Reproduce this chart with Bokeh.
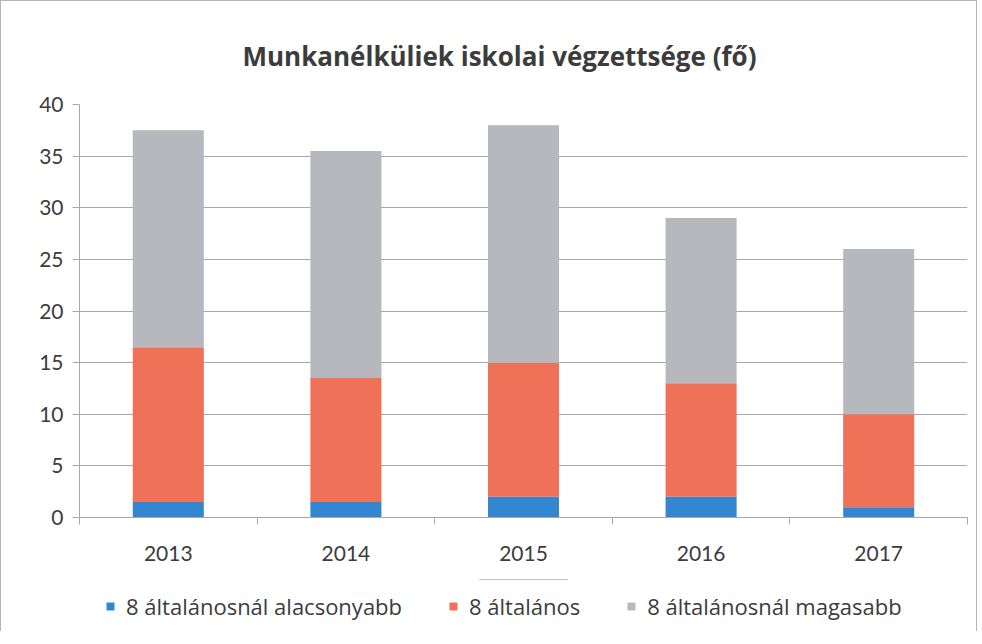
from bokeh.plotting import figure
from bokeh.layouts import column
from bokeh.models import (ColumnDataSource, Range1d, FixedTicker, Legend, LegendItem)
from bokeh.embed import file_html
from bokeh.resources import INLINE

# ---- data ----
years = ["2013", "2014", "2015", "2016", "2017"]
lower = [1.5, 1.5, 2, 2, 1]          # 8 általánosnál alacsonyabb
elementary = [15, 12, 13, 11, 9]     # 8 általános
higher = [21, 22, 23, 16, 16]        # 8 általánosnál magasabb
series_names = ["8 általánosnál alacsonyabb", "8 általános", "8 általánosnál magasabb"]
y_ticks = [0, 5, 10, 15, 20, 25, 30, 35, 40]
title_text = "Munkanélküliek iskolai végzettsége (fő)"

colors = ["#3287D0", "#EE7158", "#B7B8BD"]
FONT = "Lato"
TFONT = "Open Sans"
TXT = "#3c3c3c"
GRID = "#A8A8A8"

xpos = [i + 0.5 for i in range(len(years))]
src = ColumnDataSource(dict(x=xpos, lower=lower, elementary=elementary, higher=higher))

p = figure(width=975, height=578, output_backend="svg", toolbar_location=None,
           x_range=Range1d(0, len(years)), y_range=Range1d(0, 40),
           min_border_left=78, min_border_right=9, min_border_top=103, min_border_bottom=62)

p.vbar_stack(["lower", "elementary", "higher"], x="x", width=0.40,
             source=src, color=colors, line_width=0)

# title
p.title.text = title_text
p.title.align = "left"
p.title.offset = 163
p.title.text_font = TFONT
p.title.text_font_size = "26px"
p.title.text_font_style = "bold"
p.title.text_color = TXT
p.title.standoff = 61

# x axis: labels at centres, ticks at category boundaries
xa = p.xaxis[0]
xa.ticker = FixedTicker(ticks=xpos, minor_ticks=list(range(len(years) + 1)))
xa.major_label_overrides = {x: y for x, y in zip(xpos, years)}
xa.major_tick_line_color = None
xa.major_tick_out = 0
xa.major_tick_in = 0
xa.minor_tick_line_color = GRID
xa.minor_tick_out = 7
xa.minor_tick_in = 0
xa.axis_line_color = GRID
xa.major_label_text_font = FONT
xa.major_label_text_font_size = "21px"
xa.major_label_text_color = TXT
xa.major_label_standoff = 21

ya = p.yaxis[0]
ya.ticker = FixedTicker(ticks=y_ticks)
ya.minor_tick_line_color = None
ya.major_tick_line_color = GRID
ya.major_tick_out = 7
ya.major_tick_in = 0
ya.axis_line_color = GRID
ya.major_label_text_font = FONT
ya.major_label_text_font_size = "21px"
ya.major_label_text_color = TXT
ya.major_label_standoff = 9

p.xgrid.grid_line_color = None
p.ygrid.grid_line_color = GRID
p.ygrid.grid_line_width = 1
p.outline_line_color = None

# ---- legend strip (separate figure so the legend is not clipped) ----
lg = figure(width=975, height=52, output_backend="svg", toolbar_location=None,
            x_range=Range1d(0, 1), y_range=Range1d(0, 1),
            x_axis_type=None, y_axis_type=None,
            min_border_left=0, min_border_right=0, min_border_top=0, min_border_bottom=0)
lg.outline_line_color = None
lg.background_fill_color = None
lg.border_fill_color = None
# key swatches: one bar per series placed outside the visible range, so only the legend shows its colour
key_renderers = [lg.vbar(x=[0.5], bottom=[5], top=[6], width=0.1, color=c, line_width=0)
                 for c in colors]

legend = Legend(items=[LegendItem(label=n, renderers=[r]) for n, r in zip(series_names, key_renderers)],
                orientation="horizontal", location=(26, 10),
                padding=0, margin=0, spacing=46, label_standoff=11,
                glyph_width=10, glyph_height=10,
                label_text_font=TFONT, label_text_font_size="22px", label_text_color=TXT,
                border_line_color=None, background_fill_alpha=0)
lg.add_layout(legend, "center")

layout = column(p, lg, spacing=0)
layout.styles = {"border-top": "1px solid #b5b5b5", "border-left": "1px solid #b5b5b5",
                 "border-right": "1px solid #b5b5b5"}

open("out.html", "w").write(file_html(layout, INLINE))
